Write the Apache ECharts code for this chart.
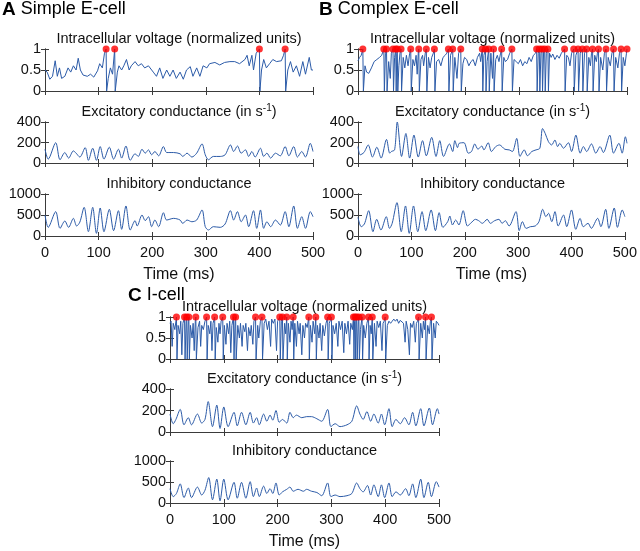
<!DOCTYPE html>
<html><head><meta charset="utf-8">
<script src="https://cdn.jsdelivr.net/npm/echarts@6/dist/echarts.min.js"></script>
<style>html,body{margin:0;padding:0;background:#fff}#c{width:640px;height:551px}</style>
</head><body><div id="c"></div>
<script>
// ---------- DATA (time in ms) ----------
const timeTicks = [0, 100, 200, 300, 400, 500];

// Panel A: Simple E-cell
const voltA = [[0,0.5],[4,0.45],[9,0.28],[14,0.35],[19,0.72],[23,0.35],[27,0.55],[31,0.3],[37,0.35],[43,0.55],[48,0.45],[53,0.6],[58,0.5],[62,0.78],[66,0.5],[71,0.38],[79,0.35],[85,0.4],[91,0.33],[98,0.48],[102,0.65],[107,0.55],[111,0.9],[114,1],[115,0],[118,0.3],[122,0.55],[126,0.4],[130,1],[131,0],[135,0.45],[138,0.6],[143,0.5],[147,0.6],[152,0.75],[157,0.5],[161,0.6],[168,0.7],[174,0.6],[180,0.65],[186,0.55],[193,0.6],[202,0.45],[208,0.35],[214,0.55],[220,0.3],[227,0.5],[233,0.35],[239,0.5],[245,0.3],[252,0.45],[258,0.28],[264,0.5],[271,0.58],[276,0.35],[283,0.55],[289,0.35],[295,0.6],[302,0.55],[307,0.65],[317,0.68],[326,0.62],[335,0.68],[345,0.7],[354,0.7],[363,0.65],[373,0.75],[377,0.85],[381,0.6],[386,0.85],[389,0.5],[394,0.9],[400,1],[401,0],[404,0.5],[408,0.75],[413,0.55],[419,0.65],[425,0.75],[432,0.7],[441,0.72],[445,0.85],[448,1],[449,0],[453,0.5],[458,0.7],[463,0.45],[469,0.6],[475,0.35],[481,0.7],[486,0.4],[493,0.8],[497,0.5],[500,0.5]];
const spikesA = [114, 130, 400, 448];
const excA = [[0,134],[6,38],[20,198],[28,32],[37,102],[44,48],[53,118],[58,96],[65,58],[75,150],[81,26],[89,144],[96,26],[103,160],[110,38],[120,154],[128,38],[137,134],[143,48],[151,166],[159,26],[168,90],[174,64],[181,134],[187,96],[193,128],[199,80],[205,112],[212,70],[221,160],[227,102],[240,102],[252,90],[257,64],[265,96],[274,58],[283,96],[293,186],[299,80],[305,32],[314,64],[327,64],[336,80],[346,176],[352,112],[359,166],[366,96],[374,128],[380,64],[386,112],[392,58],[402,144],[408,64],[414,96],[421,48],[430,96],[439,70],[448,160],[455,70],[464,160],[471,58],[479,112],[486,58],[495,192],[500,112]];
const inhA = [[0,500],[6,206],[20,580],[28,182],[37,357],[44,206],[53,420],[59,238],[65,330],[73,683],[81,103],[89,683],[96,63],[103,667],[110,103],[120,635],[128,127],[137,603],[143,159],[151,715],[159,143],[168,365],[172,238],[181,500],[187,365],[193,460],[199,222],[205,380],[212,222],[221,555],[227,380],[240,420],[252,380],[257,300],[265,380],[274,340],[283,380],[293,620],[299,222],[305,143],[314,222],[327,206],[336,286],[346,603],[352,380],[359,580],[366,340],[374,500],[380,222],[389,603],[395,182],[402,620],[408,182],[414,340],[421,222],[430,380],[439,260],[448,580],[455,222],[464,715],[471,182],[479,460],[486,182],[495,580],[500,460]];

// Panel B: Complex E-cell
const voltB = [[0,0.72],[3,0.8],[6,0.85],[9,1],[10,0],[13,0.6],[16,0.45],[20,0.42],[25,0.55],[30,0.7],[35,0.75],[40,0.8],[44,0.85],[48,1],[49,0],[51,0.9],[53,1],[54,0],[57,0.7],[60,0.3],[62,0.9],[65,1],[66,0],[68,0.8],[70,1],[71,0],[72,0.9],[73,1],[74,0],[76,0.6],[78,0.9],[80,1],[81,0],[84,0.8],[87,0.55],[90,0.85],[93,0.6],[96,0.9],[98,1],[99,0],[102,0.75],[105,0.6],[108,0.85],[110,0.4],[112,0.9],[113,1],[114,0],[117,0.75],[120,0.85],[122,0.6],[125,0.9],[127,1],[128,0],[131,0.8],[134,0.55],[137,0.8],[140,0.9],[142,1],[143,0],[146,0.7],[150,0.75],[154,0.6],[158,0.8],[162,0.85],[165,0.9],[168,1],[169,0],[172,0.85],[176,1],[177,0],[180,0.8],[184,0.3],[187,0.9],[191,1],[192,0],[195,0.65],[198,0.8],[202,0.75],[206,0.6],[210,0.7],[214,0.75],[218,0.6],[222,0.8],[226,0.9],[228,0.7],[231,1],[232,0],[234,0.85],[237,1],[238,0],[240,0.7],[243,1],[244,0],[247,0.9],[250,0.3],[252,1],[253,0],[256,0.75],[259,0.85],[262,0.7],[265,0.9],[267,1],[268,0],[271,0.8],[274,0.7],[278,0.75],[282,0.9],[286,1],[287,0],[290,0.75],[294,0.7],[298,0.65],[302,0.75],[306,0.6],[310,0.7],[314,0.65],[318,0.8],[322,0.7],[326,0.85],[330,0.9],[332,1],[333,0],[335,0.9],[337,1],[338,0],[340,0.9],[342,1],[343,0],[345,0.95],[347,1],[348,0],[350,0.9],[353,1],[354,0],[356,0.9],[359,0.8],[362,0.88],[366,0.75],[370,0.85],[374,0.78],[378,0.9],[381,0.95],[384,1],[385,0],[388,0.85],[391,0.8],[394,0.6],[397,0.9],[401,1],[402,0],[405,0.85],[409,1],[410,0],[413,0.9],[417,1],[418,0],[421,0.9],[425,1],[426,0],[429,0.8],[432,0.6],[434,0.9],[436,1],[437,0],[440,0.85],[443,0.7],[445,0.9],[447,1],[448,0],[451,0.8],[455,0.5],[458,0.9],[461,1],[462,0],[465,0.8],[469,0.6],[472,0.9],[475,1],[476,0],[479,0.8],[483,0.55],[486,0.9],[489,1],[490,0],[493,0.8],[496,0.6],[499,0.9],[500,1]];
const spikesB = [9,48,53,65,70,73,80,98,113,127,142,168,176,191,231,237,243,252,267,286,332,337,342,347,353,384,401,409,417,425,436,447,461,475,489,500];
const excB = [[0,160],[4,80],[11,102],[19,176],[27,58],[35,154],[43,48],[53,230],[59,96],[62,112],[68,128],[73,400],[81,64],[89,288],[96,48],[104,272],[112,58],[120,218],[127,70],[137,250],[145,64],[152,218],[159,64],[170,186],[176,112],[180,218],[185,150],[188,192],[197,198],[205,96],[211,112],[217,186],[223,134],[230,166],[234,128],[242,198],[248,112],[256,160],[263,176],[273,134],[281,128],[287,112],[295,240],[301,64],[309,128],[315,70],[323,112],[331,128],[338,144],[343,336],[348,288],[354,208],[360,176],[366,224],[371,160],[375,192],[382,144],[391,198],[397,112],[405,272],[413,96],[419,160],[425,112],[434,186],[442,96],[450,160],[456,102],[468,272],[475,96],[485,192],[491,96],[497,256],[500,192]];
const inhB = [[0,445],[6,222],[12,286],[20,603],[28,103],[35,397],[43,143],[53,460],[59,182],[64,300],[73,794],[81,103],[89,715],[96,63],[104,715],[112,103],[120,580],[127,127],[137,620],[145,127],[152,556],[159,206],[168,341],[172,476],[177,262],[183,381],[189,262],[197,603],[205,238],[211,302],[220,397],[226,365],[233,302],[242,397],[248,302],[256,365],[264,397],[270,302],[276,365],[283,238],[296,580],[302,127],[308,341],[315,182],[323,222],[332,238],[339,341],[346,635],[352,460],[357,540],[363,341],[369,580],[375,238],[385,500],[391,222],[400,620],[408,159],[416,420],[422,222],[431,302],[437,182],[449,420],[455,222],[464,635],[470,182],[480,667],[486,206],[495,620],[500,460]];

// Panel C: I-cell
const voltC = [[0,0.85],[2,0.9],[4,0.3],[6,0.85],[9,0.7],[12,1],[13,0],[15,0.8],[18,0.6],[20,0.9],[22,0.1],[24,0.85],[27,1],[28,0],[30,0.9],[31,1],[32,0],[34,0.9],[35,1],[36,0],[38,0.8],[41,0.5],[43,0.85],[45,0.2],[47,0.9],[48,1],[49,0],[52,0.75],[55,0.9],[57,0.3],[59,0.8],[62,0.7],[65,0.9],[68,1],[69,0],[71,0.8],[74,0.6],[76,0.9],[78,0.2],[80,0.85],[83,1],[84,0],[86,0.75],[89,0.4],[91,0.85],[93,0.6],[95,0.9],[98,1],[99,0],[101,0.8],[104,0.35],[106,0.85],[109,0.6],[111,0.9],[113,0.15],[115,0.8],[118,1],[119,0],[121,0.9],[122,1],[123,0],[126,0.8],[129,0.5],[131,0.85],[134,0.3],[136,0.8],[139,0.65],[141,0.85],[144,0.2],[146,0.75],[149,0.55],[151,0.8],[154,0.35],[156,0.9],[159,1],[160,0],[163,0.8],[165,0.5],[168,0.9],[171,1],[172,0],[175,0.85],[178,0.95],[181,0.7],[184,0.9],[187,0.3],[189,0.95],[192,0.85],[195,0.95],[198,0.2],[200,0.9],[204,1],[205,0],[207,0.9],[209,1],[210,0],[213,0.85],[215,0.6],[217,1],[218,0],[220,0.85],[223,0.4],[225,0.9],[227,0.7],[229,1],[230,0],[232,0.85],[235,0.3],[237,0.9],[240,0.6],[242,0.85],[245,0.1],[247,0.8],[250,0.5],[252,0.85],[255,0.75],[258,1],[259,0],[261,0.8],[264,0.4],[266,0.9],[269,0.6],[271,1],[272,0],[274,0.8],[277,0.5],[279,0.85],[282,0.2],[284,0.8],[287,0.55],[290,0.85],[293,1],[294,0],[296,0.85],[300,1],[301,0],[303,0.8],[306,0.6],[309,0.85],[312,0.3],[314,0.9],[317,0.7],[320,0.9],[323,0.15],[325,0.85],[328,0.6],[331,0.9],[334,0.35],[336,0.85],[339,0.7],[341,1],[342,0],[343,0.9],[344,1],[345,0],[346,0.9],[347,1],[348,0],[350,0.9],[351,1],[352,0],[354,0.7],[357,1],[358,0],[360,0.8],[363,0.5],[366,0.85],[369,1],[370,0],[372,0.8],[374,0.6],[376,1],[377,0],[380,0.85],[383,0.3],[385,0.9],[388,0.75],[391,0.9],[394,0.2],[396,0.85],[398,0.9],[400,1],[401,0],[404,0.8],[407,0.9],[410,0.85],[413,0.9],[416,0.95],[419,0.9],[422,0.95],[425,0.85],[428,0.92],[431,0.88],[434,0.85],[437,0.4],[439,0.9],[442,0.7],[445,0.1],[447,0.85],[450,0.75],[453,0.9],[456,0.4],[458,0.85],[460,0.9],[462,1],[463,0],[466,0.85],[469,0.5],[471,0.9],[473,0.7],[475,1],[476,0],[479,0.8],[482,0.6],[484,0.9],[486,1],[487,0],[490,0.85],[493,0.5],[495,0.9],[498,0.85],[500,0.8]];
const spikesC = [12,27,31,35,48,68,83,98,118,122,159,171,204,209,217,229,258,271,293,300,341,344,347,351,357,369,376,400,462,475,486];
const excC = [[0,167],[6,77],[11,117],[19,210],[26,67],[34,133],[40,67],[51,167],[59,83],[65,117],[71,283],[79,50],[87,250],[93,33],[100,233],[108,50],[119,183],[125,57],[133,183],[141,67],[149,183],[155,83],[161,133],[166,67],[174,167],[180,100],[186,157],[191,110],[197,200],[203,90],[209,117],[217,83],[223,183],[229,133],[235,157],[245,133],[254,143],[263,143],[273,123],[282,100],[293,210],[299,50],[307,77],[316,50],[329,67],[338,100],[347,243],[353,167],[359,117],[366,190],[373,100],[379,167],[387,83],[393,167],[399,67],[407,217],[413,50],[420,117],[428,77],[436,133],[444,67],[451,183],[457,57],[466,217],[472,57],[482,223],[488,67],[497,217],[500,167]];
const inhC = [[0,341],[6,152],[12,227],[19,455],[26,129],[34,356],[40,129],[51,379],[59,190],[65,303],[72,606],[79,76],[87,568],[93,53],[100,568],[108,76],[119,492],[125,114],[133,492],[141,114],[149,508],[155,152],[161,356],[166,152],[174,402],[180,227],[186,341],[191,227],[197,477],[203,190],[209,265],[217,326],[223,379],[229,280],[238,326],[248,280],[254,326],[263,280],[273,250],[282,174],[293,477],[299,152],[307,190],[316,152],[329,174],[338,227],[347,477],[353,341],[359,265],[367,417],[373,190],[379,432],[387,152],[393,432],[399,129],[407,477],[413,152],[420,265],[428,190],[438,341],[444,174],[451,455],[457,129],[466,568],[472,129],[480,492],[486,152],[495,508],[500,379]];

const panelTitles = [['A','Simple E-cell'],['B','Complex E-cell'],['C','I-cell']];
const plotTitles = ['Intracellular voltage (normalized units)', 'Excitatory conductance (in s', 'Inhibitory conductance'];
const xAxisName = 'Time (ms)';

// ---------- LAYOUT ----------
const FONT = '"Liberation Sans", Arial, Helvetica, sans-serif';
const LINE = '#2c5ba8';
const AX = '#3a3a3a';
const layout = [
  {left:45, width:268, tops:[49,122,194], heights:[42,41,42], head:[2,11]},
  {left:358, width:269, tops:[49,122,194], heights:[42,41,42], head:[319,11]},
  {left:170, width:269, tops:[317,389,461], heights:[42,43,43], head:[128,297]}
];
const yScales = [{max:1, interval:0.5}, {max:400, interval:200}, {max:1000, interval:500}];
const traces = [[voltA, excA, inhA], [voltB, excB, inhB], [voltC, excC, inhC]];
const spikes = [spikesA, spikesB, spikesC];

const grids = [], xAxes = [], yAxes = [], series = [], graphics = [];
const axLine = {show:true, lineStyle:{color:AX, width:1}};
const tick = {show:true, inside:true, length:4, lineStyle:{color:AX, width:1}};

layout.forEach((L, p) => {
  graphics.push({type:'text', left:L.head[0], top:L.head[1]-11, style:{
    text:'{b|' + panelTitles[p][0] + '}{n|\u00a0' + panelTitles[p][1] + '}',
    rich:{b:{fontSize:19, fontWeight:'bold', fontFamily:FONT, fill:'#000'}, n:{fontSize:18, fontFamily:FONT, fill:'#000'}}
  }});
  for (let k = 0; k < 3; k++) {
    const gi = grids.length;
    const top = L.tops[k], h = L.heights[k];
    grids.push({left:L.left, top:top, width:L.width, height:h});
    const last = (k === 2);
    const xi = xAxes.length;
    xAxes.push({gridIndex:gi, type:'value', position:'bottom', min:timeTicks[0], max:timeTicks[timeTicks.length-1], interval:timeTicks[1]-timeTicks[0],
      axisLine:axLine, axisTick:tick, splitLine:{show:false},
      axisLabel:{show:last, margin:9, fontSize:14.5, color:'#111', fontFamily:FONT},
      name:last ? xAxisName : '', nameLocation:'middle', nameGap:31,
      nameTextStyle:{fontSize:16, color:'#111', fontFamily:FONT}});
    xAxes.push({gridIndex:gi, type:'value', position:'top', min:0, max:500, interval:100,
      axisLine:axLine, axisTick:tick, splitLine:{show:false}, axisLabel:{show:false}});
    const yi = yAxes.length;
    yAxes.push({gridIndex:gi, type:'value', position:'left', min:0, max:yScales[k].max, interval:yScales[k].interval,
      axisLine:axLine, axisTick:tick, splitLine:{show:false},
      axisLabel:{margin:4, fontSize:14.5, color:'#111', fontFamily:FONT, formatter:v => String(v)}});
    yAxes.push({gridIndex:gi, type:'value', position:'right', min:0, max:yScales[k].max, interval:yScales[k].interval,
      axisLine:axLine, axisTick:tick, splitLine:{show:false}, axisLabel:{show:false}});
    series.push({type:'line', xAxisIndex:xi, yAxisIndex:yi, data:traces[p][k], showSymbol:false, symbol:'none',
      smooth: k === 0 ? false : 0.3,
      lineStyle:{color:LINE, width:1}, z:2, animation:false});
    if (k === 0) {
      series.push({type:'scatter', xAxisIndex:xi, yAxisIndex:yi, data:spikes[p].map(t => [t, 1]),
        symbolSize:7, itemStyle:{color:'#ff0000'}, clip:false, z:5, animation:false});
    }
    const cx = L.left + L.width / 2;
    const txt = k === 1 ? '{a|' + plotTitles[1] + '}{s|-1}{a|)}' : '{a|' + plotTitles[k] + '}';
    const rich = {a:{fontSize:14.5, fontFamily:FONT, fill:'#111', lineHeight:18},
            s:{fontSize:10, fontFamily:FONT, fill:'#111', verticalAlign:'top', lineHeight:18, padding:[0,0,8,0]}};
    graphics.push({type:'text', x:cx, y:top - 10, style:{text:txt, rich:rich, align:'center', verticalAlign:'middle'}});
  }
});

const chart = echarts.init(document.getElementById('c'), null, {renderer:'canvas'});
chart.setOption({
  animation:false,
  backgroundColor:'#fff',
  grid:grids, xAxis:xAxes, yAxis:yAxes, series:series, graphic:graphics
});
</script></body></html>
